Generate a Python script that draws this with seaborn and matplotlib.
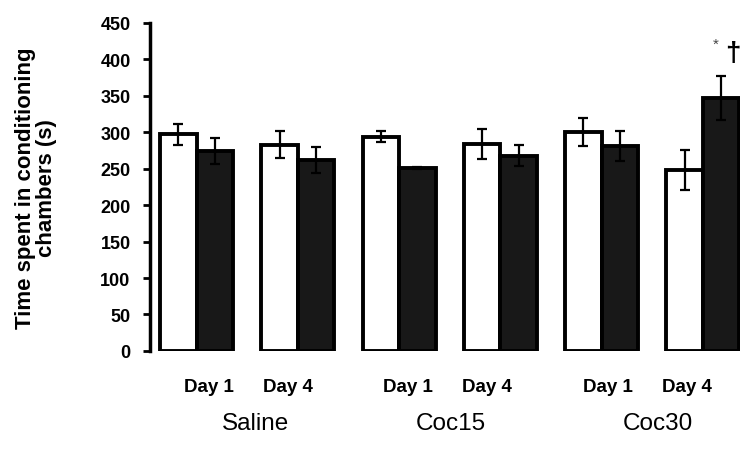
import pandas as pd
import matplotlib
matplotlib.use('Agg')
import matplotlib.pyplot as plt
import seaborn as sns
import numpy as np

# data
conditions = ['Saline Day 1', 'Saline Day 4', 'Coc15 Day 1', 'Coc15 Day 4', 'Coc30 Day 1', 'Coc30 Day 4']
day_labels = ['Day 1', 'Day 4', 'Day 1', 'Day 4', 'Day 1', 'Day 4']
group_labels = ['Saline', 'Coc15', 'Coc30']
white_chamber = [297, 283, 294, 284, 300, 248]
black_chamber = [274, 262, 251, 268, 281, 347]
white_err = [14, 19, 8, 21, 19, 27]
black_err = [18, 18, 2, 14, 21, 30]

df = pd.DataFrame({
    'Condition': conditions * 2,
    'Chamber': ['White'] * 6 + ['Black'] * 6,
    'Time': white_chamber + black_chamber,
})

sns.set_theme(style='white')
plt.rcParams['font.family'] = ['Liberation Sans', 'DejaVu Sans']
plt.rcParams['text.color'] = 'black'
plt.rcParams['axes.labelcolor'] = 'black'
plt.rcParams['ytick.color'] = 'black'

fig = plt.figure(figsize=(7.5, 4.6), dpi=100)
ax = fig.add_axes([0.2, 0.235, 0.787, 0.713])

sns.barplot(data=df, x='Condition', y='Time', hue='Chamber', order=conditions,
            hue_order=['White', 'Black'], palette={'White': 'white', 'Black': '#181818'},
            edgecolor='black', linewidth=2.8, width=0.72, errorbar=None, legend=False, ax=ax)

# error bars on top of each bar
for container, errs in zip(ax.containers, [white_err, black_err]):
    xs = [b.get_x() + b.get_width() / 2 for b in container]
    ys = [b.get_height() for b in container]
    ax.errorbar(xs, ys, yerr=errs, fmt='none', ecolor='black', elinewidth=1.6,
                capsize=3.6, capthick=1.6, zorder=5)

# significance marks over Coc30 Day 4 black bar
last = ax.containers[1][5]
bx = last.get_x() + last.get_width() / 2
top = black_chamber[5] + black_err[5]
ax.text(bx - 0.05, top + 44, '*', ha='center', va='center', fontsize=11, color='#444444')
ax.text(bx + 0.12, top + 32, '†', ha='center', va='center', fontsize=20, fontweight='bold')

ax.set_ylim(0, 450)
ax.set_xlim(-0.46, 5.37)
ax.set_yticks(range(0, 451, 50))
ax.set_yticklabels([str(v) for v in range(0, 451, 50)], fontsize=13, fontweight='bold')
ax.set_xticks([])
ax.set_xlabel('')
ax.set_ylabel('Time spent in conditioning\nchambers (s)', fontsize=16, fontweight='bold',
              labelpad=31, linespacing=1.0)
ax.tick_params(axis='y', direction='out', length=5, width=2, left=True, pad=9)

for s in ['top', 'right', 'bottom']:
    ax.spines[s].set_visible(False)
ax.spines['left'].set_linewidth(2.5)
ax.spines['left'].set_color('black')

# day and group labels under the bars
day_x = [0.100, 0.234, 0.437, 0.571, 0.776, 0.910]
for x, lab in zip(day_x, day_labels):
    ax.text(x, -0.110, lab, transform=ax.transAxes, ha='center', va='center',
            fontsize=13.5, fontweight='bold')
group_x = [0.178, 0.510, 0.861]
for x, lab in zip(group_x, group_labels):
    ax.text(x, -0.220, lab, transform=ax.transAxes, ha='center', va='center', fontsize=17.5)

fig.savefig('out.png', dpi=100)
